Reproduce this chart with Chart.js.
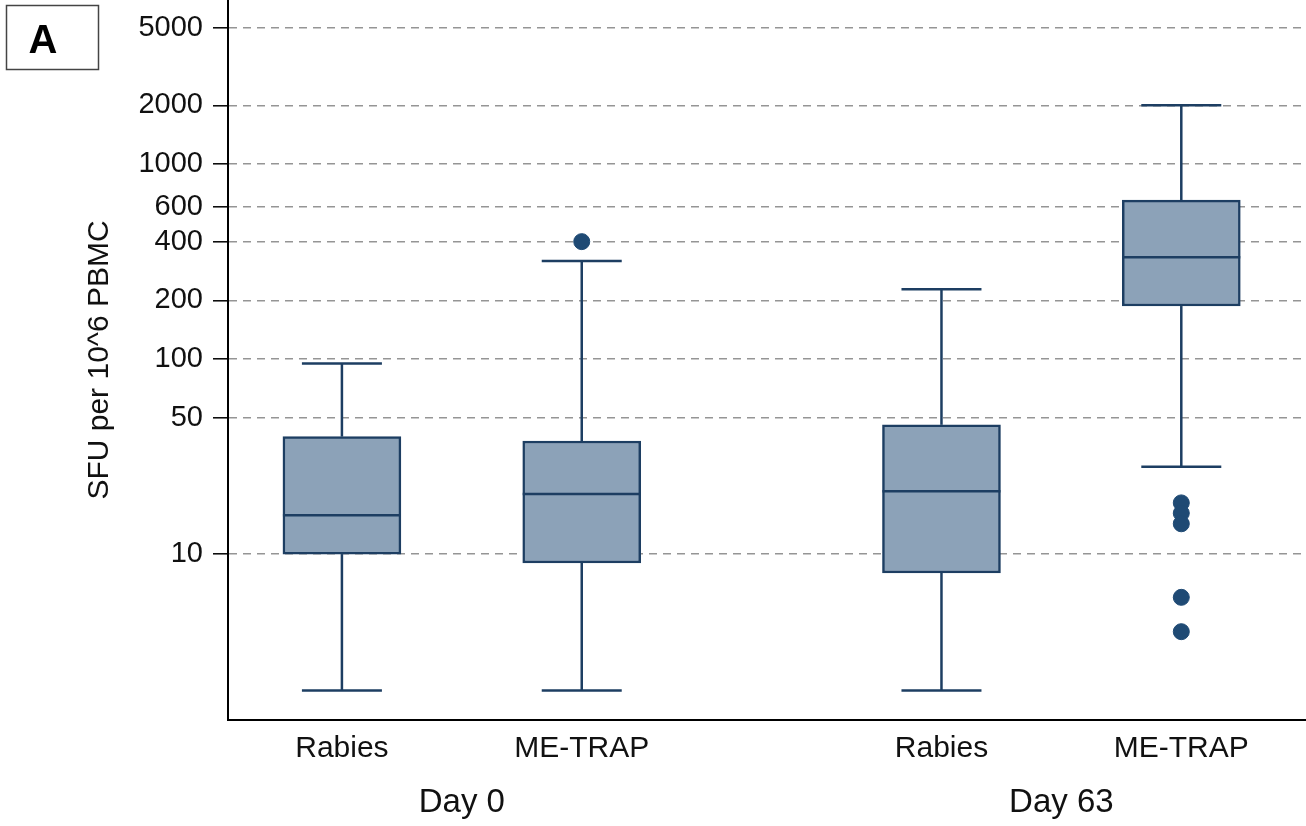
<!DOCTYPE html>
<html lang="en">
<head>
  <meta charset="utf-8">
  <title>SFU per 10^6 PBMC</title>
  <script src="https://cdn.jsdelivr.net/npm/chart.js"></script>
  <style>
    html, body { margin: 0; padding: 0; background: #fff; }
    #box { display: block; }
  </style>
</head>
<body>
<canvas id="box" width="1306" height="826"></canvas>
<script>
  const groups = ['Day 0', 'Day 63'];
  const categories = ['Rabies', 'ME-TRAP', 'Rabies', 'ME-TRAP'];
  const xSlots = [1, 2, 3.5, 4.5];
  const whiskerLow = [2, 2, 2, 28];
  const q1 = [10, 9, 8, 187];
  const median = [15.8, 20.3, 21, 333];
  const q3 = [40, 38, 46, 653];
  const whiskerHigh = [95, 318, 228, 2000];
  const outliers = [[], [400], [], [18.3, 16.2, 14.3, 6, 4]];
  const yTicks = [10, 50, 100, 200, 400, 600, 1000, 2000, 5000];

  const lineColor = '#1d3e62';
  const font = 'Liberation Sans, Arial, sans-serif';

  // whiskers, caps and medians drawn on the chart's own scales
  const boxExtras = {
    id: 'boxExtras',
    afterDatasetsDraw(chart) {
      const ctx = chart.ctx;
      const x = chart.scales.x, y = chart.scales.y;
      const half = 118 / 2, cap = 40;
      ctx.save();
      ctx.strokeStyle = lineColor;
      ctx.lineWidth = 2.5;
      xSlots.forEach((slot, i) => {
        const px = x.getPixelForValue(slot);
        const seg = (a, b, c, d) => { ctx.beginPath(); ctx.moveTo(a, b); ctx.lineTo(c, d); ctx.stroke(); };
        seg(px, y.getPixelForValue(q3[i]), px, y.getPixelForValue(whiskerHigh[i]));
        seg(px, y.getPixelForValue(q1[i]), px, y.getPixelForValue(whiskerLow[i]));
        seg(px - cap, y.getPixelForValue(whiskerHigh[i]), px + cap, y.getPixelForValue(whiskerHigh[i]));
        seg(px - cap, y.getPixelForValue(whiskerLow[i]), px + cap, y.getPixelForValue(whiskerLow[i]));
        seg(px - half, y.getPixelForValue(median[i]), px + half, y.getPixelForValue(median[i]));
      });
      ctx.restore();
    },
    afterDraw(chart) {
      const ctx = chart.ctx;
      const x = chart.scales.x;
      ctx.save();
      ctx.fillStyle = '#111';
      ctx.textAlign = 'center';
      ctx.textBaseline = 'middle';
      ctx.font = '33px ' + font;
      ctx.fillText(groups[0], x.getPixelForValue((xSlots[0] + xSlots[1]) / 2), 803);
      ctx.fillText(groups[1], x.getPixelForValue((xSlots[2] + xSlots[3]) / 2), 803);
      // panel letter
      ctx.strokeStyle = '#444';
      ctx.lineWidth = 1.5;
      ctx.strokeRect(6.5, 5.5, 92, 64);
      ctx.fillStyle = '#000';
      ctx.font = 'bold 40px ' + font;
      ctx.fillText('A', 43, 42);
      ctx.restore();
    }
  };

  new Chart(document.getElementById('box'), {
    type: 'bar',
    data: {
      datasets: [{
        data: xSlots.map((s, i) => ({ x: s, y: [q1[i], q3[i]] })),
        backgroundColor: '#8ca2b8',
        borderColor: lineColor,
        borderWidth: 2.5,
        borderSkipped: false,
        barThickness: 118
      }, {
        type: 'scatter',
        data: outliers.flatMap((list, i) => list.map(v => ({ x: xSlots[i], y: v }))),
        backgroundColor: '#1f4a74',
        borderColor: '#1f4a74',
        pointRadius: 8,
        pointHoverRadius: 8
      }]
    },
    options: {
      responsive: false,
      animation: false,
      events: [],
      layout: { padding: 0, autoPadding: false },
      plugins: { legend: { display: false }, tooltip: { enabled: false } },
      scales: {
        x: {
          type: 'linear',
          min: 0.525,
          max: 5.02,
          offset: false,
          grid: { display: false, drawTicks: false, offset: false },
          border: { color: '#000', width: 2 },
          afterBuildTicks: s => { s.ticks = xSlots.map(v => ({ value: v })); },
          afterFit: s => { s.height = 106; s.paddingLeft = 0; s.paddingRight = 0; },
          ticks: {
            autoSkip: false,
            maxRotation: 0,
            padding: 11,
            color: '#111',
            font: { family: font, size: 30 },
            callback: (v, i) => categories[i]
          }
        },
        y: {
          type: 'logarithmic',
          min: 1.41,
          max: 6934,
          grid: { color: '#959595', lineWidth: 1.6, tickLength: 15, tickColor: '#000', tickWidth: 1.5 },
          border: { color: '#000', width: 2, dash: [8, 6] },
          afterBuildTicks: s => { s.ticks = yTicks.map(v => ({ value: v })); },
          afterFit: s => { s.width = 228; s.paddingTop = 0; s.paddingBottom = 0; },
          ticks: {
            padding: 10,
            color: '#111',
            font: { family: font, size: 29 },
            callback: v => String(v)
          },
          title: {
            display: true,
            text: 'SFU per 10^6 PBMC',
            color: '#111',
            font: { family: font, size: 30 },
            padding: { top: 82, bottom: 0 }
          }
        }
      }
    },
    plugins: [boxExtras]
  });
</script>
</body>
</html>
